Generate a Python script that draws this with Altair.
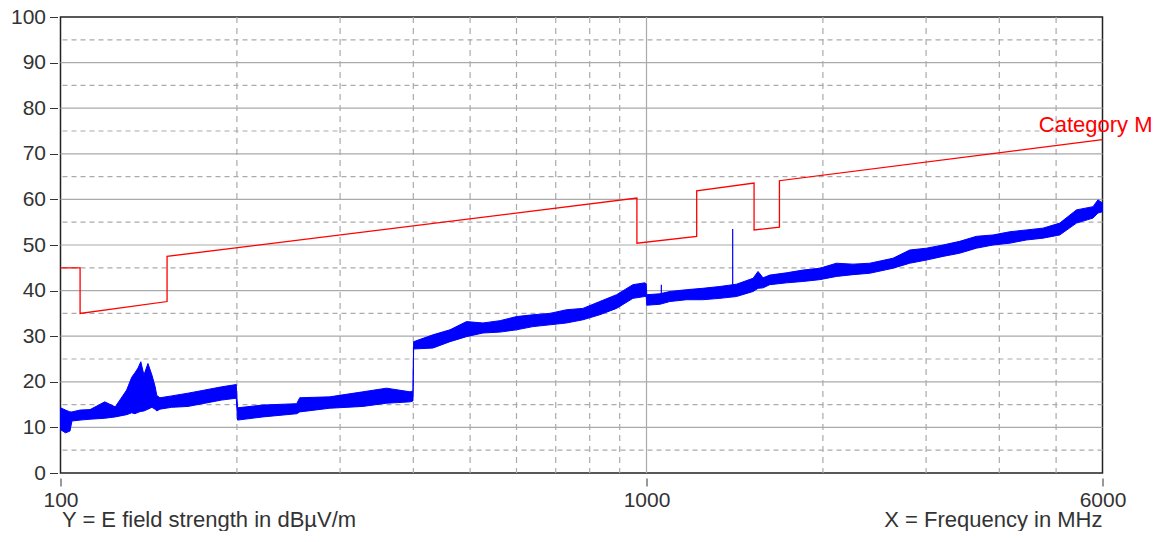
import altair as alt
import pandas as pd

# Limit line "Category M" (frequency MHz, level dBuV/m)
limit_f = [100, 108, 108, 152, 152, 963, 963, 1218, 1218, 1526, 1526, 1686, 1686, 6000]
limit_v = [45, 45, 35, 37.6, 47.5, 60.3, 50.4, 51.9, 61.9, 63.6, 53.3, 53.9, 64.1, 73.1]

# Measured trace: frequency and lower / upper envelope of the noisy trace
meas_f = [100, 102, 103.8, 104.6, 108, 112.3, 119, 124, 129.7, 132.3, 134, 135.6, 137.1, 138.8,
          141, 143.2, 145, 146, 147.8, 154.7, 165, 176.4, 188.4, 199.5, 200.5, 221.5, 253, 256,
          288, 328, 360, 395, 399.5, 400.5, 432, 462, 493, 526, 562, 600, 640, 684, 730, 779,
          832, 889, 948, 993, 999, 1001, 1054, 1096, 1170, 1247, 1334, 1424, 1520, 1550, 1581,
          1623, 1733, 1849, 1975, 2109, 2251, 2404, 2634, 2813, 3004, 3206, 3423, 3656, 3903,
          4168, 4450, 4750, 5072, 5416, 5780, 5894, 6000]
meas_lo = [9.5, 8.8, 9.2, 11.4, 11.6, 11.8, 12.0, 12.3, 12.8, 13.2, 13.0, 13.3, 13.5, 13.6,
           14.0, 14.4, 14.0, 13.6, 14.0, 14.4, 14.6, 15.3, 16.0, 16.4, 11.6, 12.3, 13.0, 13.4,
           14.2, 14.6, 15.3, 15.6, 15.8, 27.2, 27.4, 28.8, 29.9, 30.7, 30.9, 31.4, 32.1, 32.5, 32.9, 33.6,
           34.7, 36.1, 38.3, 38.7, 38.7, 36.8, 37.0, 37.6, 38.0, 38.0, 38.3, 38.7, 39.8, 40.5, 40.6,
           41.3, 41.7, 42.0, 42.4, 43.1, 43.5, 43.8, 44.9, 46.0, 46.7, 47.5, 48.2, 49.3, 50.0,
           50.4, 51.1, 51.5, 52.2, 54.8, 55.9, 57.0, 57.3]
meas_hi = [14.3, 13.8, 13.4, 13.4, 13.8, 13.9, 15.6, 14.5, 18.2, 21.0, 22.0, 23.0, 24.4, 21.5,
           24.0, 21.5, 19.0, 17.0, 16.5, 16.9, 17.5, 18.2, 18.9, 19.4, 14.3, 14.9, 15.2, 16.5,
           16.7, 17.8, 18.6, 17.8, 18.0, 28.8, 30.3, 31.4, 33.2, 32.9, 33.4, 34.3, 34.7, 35.0, 35.8, 36.1,
           37.6, 39.1, 41.3, 41.7, 41.5, 39.1, 39.3, 39.8, 40.2, 40.5, 40.9, 41.4, 42.7, 44.2, 42.8,
           43.4, 43.9, 44.5, 44.9, 46.0, 45.8, 46.0, 47.1, 48.9, 49.3, 50.0, 50.8, 51.9, 52.2,
           52.9, 53.3, 53.7, 54.8, 57.7, 58.4, 59.9, 59.2]

# Narrow spikes in the trace
spike_f = [1403, 1060]
spike_base = [40.0, 38.5]
spike_top = [53.5, 41.3]

# Grid values
y_major = [10, 20, 30, 40, 50, 60, 70, 80, 90]
y_minor = [5, 15, 25, 35, 45, 55, 65, 75, 85, 95]
x_major = [1000]
x_minor = [200, 300, 400, 500, 600, 700, 800, 900, 2000, 3000, 4000, 5000]
x_ticks = [100, 1000, 6000]
y_ticks = [0, 10, 20, 30, 40, 50, 60, 70, 80, 90, 100]

W, H = 1042, 456
FONT = "Liberation Sans"
TXT = "#333333"
GRID = "#aaaaaa"

xscale = alt.Scale(type="log", domain=[100, 6000], nice=False)
yscale = alt.Scale(domain=[0, 100], nice=False)
xaxis = alt.Axis(values=x_ticks, format="d", grid=False, domain=False, offset=5,
                 tickSize=8, tickColor=TXT, labelFontSize=21, labelFont=FONT,
                 labelColor=TXT, labelPadding=3, title=None, labelFlush=False)
yaxis = alt.Axis(values=y_ticks, grid=False, domain=False, offset=3, tickSize=8,
                 tickColor=TXT, labelFontSize=21, labelFont=FONT, labelColor=TXT,
                 labelPadding=4, title=None)

limit_df = pd.DataFrame({"f": limit_f, "v": limit_v, "i": list(range(len(limit_f)))})
meas_df = pd.DataFrame({"f": meas_f, "lo": meas_lo, "hi": meas_hi})
spike_df = pd.DataFrame({"f": spike_f, "lo": spike_base, "hi": spike_top})

ymaj = alt.Chart(pd.DataFrame({"v": y_major})).mark_rule(color=GRID, strokeWidth=1.2).encode(
    y=alt.Y("v:Q", scale=yscale, axis=yaxis))
ymin = alt.Chart(pd.DataFrame({"v": y_minor})).mark_rule(color=GRID, strokeWidth=1.2, strokeDash=[5, 4]).encode(
    y=alt.Y("v:Q", scale=yscale, axis=yaxis))
xmaj = alt.Chart(pd.DataFrame({"f": x_major})).mark_rule(color=GRID, strokeWidth=1.2).encode(
    x=alt.X("f:Q", scale=xscale, axis=xaxis))
xmin = alt.Chart(pd.DataFrame({"f": x_minor})).mark_rule(color=GRID, strokeWidth=1.2, strokeDash=[6, 5]).encode(
    x=alt.X("f:Q", scale=xscale, axis=xaxis))

band = alt.Chart(meas_df).mark_area(color="#0000ff", stroke="#0000ff", strokeWidth=1, opacity=1).encode(
    x=alt.X("f:Q", scale=xscale, axis=xaxis),
    y=alt.Y("lo:Q", scale=yscale, axis=yaxis),
    y2="hi:Q",
)

spikes = alt.Chart(spike_df).mark_rule(color="#0000ff", strokeWidth=1.2).encode(
    x=alt.X("f:Q", scale=xscale, axis=xaxis),
    y=alt.Y("lo:Q", scale=yscale, axis=yaxis),
    y2="hi:Q",
)

limit = alt.Chart(limit_df).mark_line(color="#ff0000", strokeWidth=1.3).encode(
    x=alt.X("f:Q", scale=xscale, axis=xaxis),
    y=alt.Y("v:Q", scale=yscale, axis=yaxis),
    order="i:Q",
)

def label(txt, x, y, align, color=TXT):
    return alt.Chart(pd.DataFrame({"t": [txt]})).mark_text(
        align=align, baseline="alphabetic", font=FONT, fontSize=22, color=color
    ).encode(x=alt.value(x), y=alt.value(y), text="t:N")

ytitle = label("Y = E field strength in dBµV/m", 1.5, 510, "left")
xtitle = label("X = Frequency in MHz", W, 510, "right")
cat = label("Category M", 1092, 115, "right", color="#ff0000")

chart = alt.layer(ymin, ymaj, xmin, xmaj, band, spikes, limit, ytitle, xtitle, cat).properties(
    width=W, height=H,
    autosize=alt.AutoSizeParams(type="none"),
    padding={"left": 52.5, "top": 9, "right": 51, "bottom": 58},
).configure_view(stroke="#222222", strokeWidth=1.5)

chart.save("out.html", embed_options={"renderer": "svg", "actions": False})
